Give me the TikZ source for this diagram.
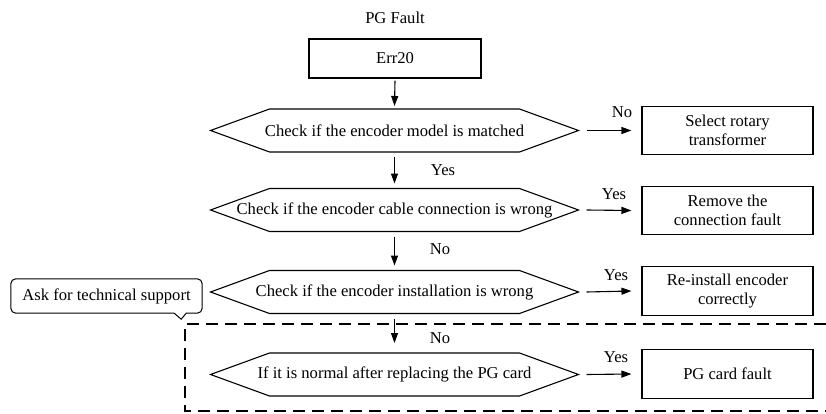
\documentclass[tikz,border=0pt]{standalone}
\usepackage{fontspec}
\setmainfont{Liberation Serif}
\usetikzlibrary{arrows.meta}
\newcommand\myhex[4]{%
  \coordinate (#1) at (#2,#3);
  \node[lbl] (#1t) at (#1) {#4};
  \draw[line width=1.1pt] ([xshift=-184pt]#1) coordinate (#1w)
    -- ([xshift=-125pt,yshift=21.5pt]#1) -- ([xshift=125pt,yshift=21.5pt]#1)
    -- ([xshift=184pt]#1) coordinate (#1e)
    -- ([xshift=125pt,yshift=-21.5pt]#1) -- ([xshift=-125pt,yshift=-21.5pt]#1) -- cycle;
  \coordinate (#1n) at ([yshift=21.5pt]#1);
  \coordinate (#1s) at ([yshift=-21.5pt]#1);}
\begin{document}
\begin{tikzpicture}[x=1pt,y=-1pt,
  every node/.style={font=\fontsize{16.6}{19.5}\selectfont},
  box/.style={draw, line width=1.1pt, minimum width=171pt, minimum height=48.5pt, align=center, inner sep=0pt},
  arr/.style={line width=1.1pt, -{Triangle[length=10pt,width=7pt]}},
  lbl/.style={inner sep=0pt}]
\useasboundingbox (0,0) rectangle (826,414);

\node[lbl] (pg) at (395,18) {PG Fault};
\node[draw, line width=1.1pt, minimum width=172pt, minimum height=39pt, inner sep=0pt] (err) at (395,58.5) {Err20};

\myhex{h1}{394.5}{130.5}{Check if the encoder model is matched}
\myhex{h2}{394.5}{210}{Check if the encoder cable connection is wrong}
\myhex{h3}{394.5}{292}{Check if the encoder installation is wrong}
\myhex{h4}{394.5}{374.5}{If it is normal after replacing the PG card}

\node[box] (b1) at (727.5,130.5) {Select rotary\\transformer};
\node[box] (b2) at (727.5,210.5) {Remove the\\connection fault};
\node[box] (b3) at (727.5,291) {Re-install encoder\\correctly};
\node[box] (b4) at (727.5,374) {PG card fault};

\node[minimum width=191pt, minimum height=34pt, inner sep=0pt] (ask) at (106.5,296) {Ask for technical support};
\draw[line width=1pt]
  ([xshift=-16pt]ask.south east) -- ([xshift=-21pt,yshift=-6pt]ask.south east) -- ([xshift=-28pt]ask.south east)
  [rounded corners=5pt] -- (ask.south west) -- (ask.north west) -- (ask.north east) -- (ask.south east)
  [sharp corners] -- cycle;

% vertical arrows
\draw[arr] ([yshift=-2pt]err.south) -- ([yshift=3pt]h1n);
\draw[arr] ([yshift=-5pt]h1s) -- ([yshift=5pt]h2n);
\draw[arr] ([yshift=-5pt]h2s) -- ([yshift=5pt]h3n);
\draw[arr] ([yshift=-5pt]h3s) -- ([yshift=10pt]h4n);

\node[lbl] at (443,170) {Yes};
\node[lbl] at (440,249) {No};
\node[lbl] at (440,338) {No};

% horizontal arrows
\draw[arr] ([xshift=8pt]h1e) -- ([xshift=-10pt]b1.west);
\draw[arr] ([xshift=8pt]h2e) -- ([xshift=-10pt]b2.west);
\draw[arr] ([xshift=8pt]h3e) -- ([xshift=-10pt]b3.west);
\draw[arr] ([xshift=8pt]h4e) -- ([xshift=-10pt]b4.west);

\node[lbl] at (622,112) {No};
\node[lbl] at (614,194) {Yes};
\node[lbl] at (616,275) {Yes};
\node[lbl] at (616,357) {Yes};

% dashed region
\draw[line width=1.1pt, dash pattern=on 12pt off 7pt] (826,324) -- (185,324) -- (185,411) -- (826,411);
\end{tikzpicture}
\end{document}
